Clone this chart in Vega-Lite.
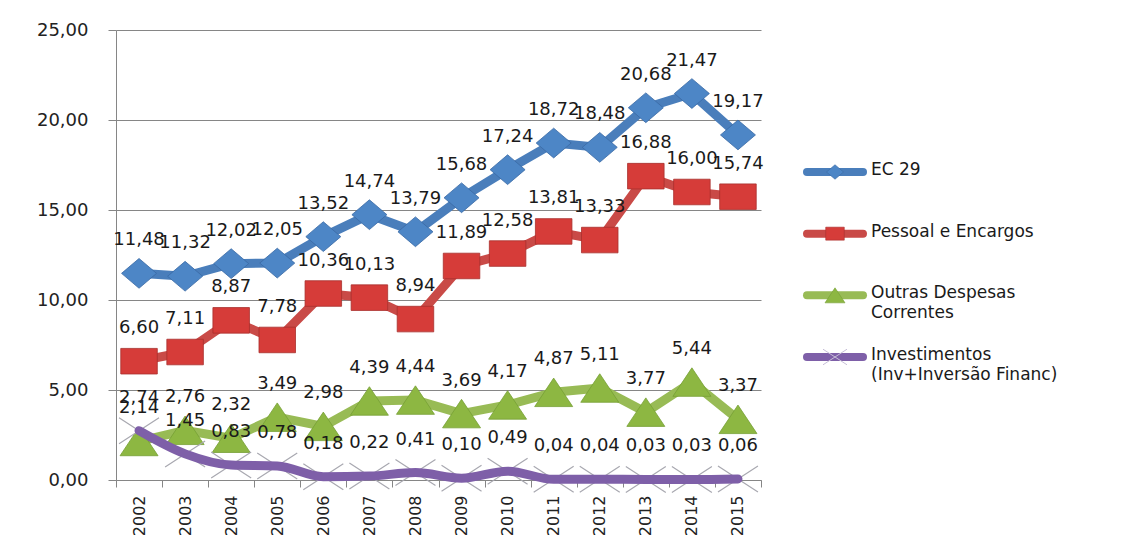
{
  "$schema": "https://vega.github.io/schema/vega-lite/v6.json",
  "padding": {"left": 5, "top": 21, "right": 5, "bottom": 5},
  "background": "white",
  "spacing": 39,
  "datasets": {
    "d": [
      {"year": "2002", "series": "EC 29", "value": 11.48},
      {"year": "2003", "series": "EC 29", "value": 11.32},
      {"year": "2004", "series": "EC 29", "value": 12.02},
      {"year": "2005", "series": "EC 29", "value": 12.05},
      {"year": "2006", "series": "EC 29", "value": 13.52},
      {"year": "2007", "series": "EC 29", "value": 14.74},
      {"year": "2008", "series": "EC 29", "value": 13.79},
      {"year": "2009", "series": "EC 29", "value": 15.68},
      {"year": "2010", "series": "EC 29", "value": 17.24},
      {"year": "2011", "series": "EC 29", "value": 18.72},
      {"year": "2012", "series": "EC 29", "value": 18.48},
      {"year": "2013", "series": "EC 29", "value": 20.68},
      {"year": "2014", "series": "EC 29", "value": 21.47},
      {"year": "2015", "series": "EC 29", "value": 19.17},
      {"year": "2002", "series": "Pessoal e Encargos", "value": 6.60},
      {"year": "2003", "series": "Pessoal e Encargos", "value": 7.11},
      {"year": "2004", "series": "Pessoal e Encargos", "value": 8.87},
      {"year": "2005", "series": "Pessoal e Encargos", "value": 7.78},
      {"year": "2006", "series": "Pessoal e Encargos", "value": 10.36},
      {"year": "2007", "series": "Pessoal e Encargos", "value": 10.13},
      {"year": "2008", "series": "Pessoal e Encargos", "value": 8.94},
      {"year": "2009", "series": "Pessoal e Encargos", "value": 11.89},
      {"year": "2010", "series": "Pessoal e Encargos", "value": 12.58},
      {"year": "2011", "series": "Pessoal e Encargos", "value": 13.81},
      {"year": "2012", "series": "Pessoal e Encargos", "value": 13.33},
      {"year": "2013", "series": "Pessoal e Encargos", "value": 16.88},
      {"year": "2014", "series": "Pessoal e Encargos", "value": 16.00},
      {"year": "2015", "series": "Pessoal e Encargos", "value": 15.74},
      {"year": "2002", "series": "Outras Despesas Correntes", "value": 2.14},
      {"year": "2003", "series": "Outras Despesas Correntes", "value": 2.76},
      {"year": "2004", "series": "Outras Despesas Correntes", "value": 2.32},
      {"year": "2005", "series": "Outras Despesas Correntes", "value": 3.49},
      {"year": "2006", "series": "Outras Despesas Correntes", "value": 2.98},
      {"year": "2007", "series": "Outras Despesas Correntes", "value": 4.39},
      {"year": "2008", "series": "Outras Despesas Correntes", "value": 4.44},
      {"year": "2009", "series": "Outras Despesas Correntes", "value": 3.69},
      {"year": "2010", "series": "Outras Despesas Correntes", "value": 4.17},
      {"year": "2011", "series": "Outras Despesas Correntes", "value": 4.87},
      {"year": "2012", "series": "Outras Despesas Correntes", "value": 5.11},
      {"year": "2013", "series": "Outras Despesas Correntes", "value": 3.77},
      {"year": "2014", "series": "Outras Despesas Correntes", "value": 5.44},
      {"year": "2015", "series": "Outras Despesas Correntes", "value": 3.37},
      {"year": "2002", "series": "Investimentos (Inv+Inversão Financ)", "value": 2.74},
      {"year": "2003", "series": "Investimentos (Inv+Inversão Financ)", "value": 1.45},
      {"year": "2004", "series": "Investimentos (Inv+Inversão Financ)", "value": 0.83},
      {"year": "2005", "series": "Investimentos (Inv+Inversão Financ)", "value": 0.78},
      {"year": "2006", "series": "Investimentos (Inv+Inversão Financ)", "value": 0.18},
      {"year": "2007", "series": "Investimentos (Inv+Inversão Financ)", "value": 0.22},
      {"year": "2008", "series": "Investimentos (Inv+Inversão Financ)", "value": 0.41},
      {"year": "2009", "series": "Investimentos (Inv+Inversão Financ)", "value": 0.10},
      {"year": "2010", "series": "Investimentos (Inv+Inversão Financ)", "value": 0.49},
      {"year": "2011", "series": "Investimentos (Inv+Inversão Financ)", "value": 0.04},
      {"year": "2012", "series": "Investimentos (Inv+Inversão Financ)", "value": 0.04},
      {"year": "2013", "series": "Investimentos (Inv+Inversão Financ)", "value": 0.03},
      {"year": "2014", "series": "Investimentos (Inv+Inversão Financ)", "value": 0.03},
      {"year": "2015", "series": "Investimentos (Inv+Inversão Financ)", "value": 0.06}
    ],
    "leg": [
      {"series": "EC 29", "label": "EC 29"},
      {"series": "Pessoal e Encargos", "label": "Pessoal e Encargos"},
      {"series": "Outras Despesas Correntes", "label": "Outras Despesas\nCorrentes"},
      {"series": "Investimentos (Inv+Inversão Financ)", "label": "Investimentos\n(Inv+Inversão Financ)"}
    ]
  },
  "hconcat": [
    {
      "width": 645,
      "height": 450,
      "data": {"name": "d"},
      "encoding": {
        "x": {
          "field": "year", "type": "ordinal",
          "scale": {"type": "band", "paddingInner": 0, "paddingOuter": 0},
          "axis": {
            "title": null, "labelAngle": -90, "tickBand": "extent", "grid": false,
            "domainColor": "#868686", "tickColor": "#868686", "tickSize": 7,
            "labelPadding": 8, "labelFont": "DejaVu Sans", "labelFontSize": 16, "labelColor": "#222222"
          }
        },
        "y": {
          "field": "value", "type": "quantitative",
          "scale": {"domain": [0, 25]},
          "axis": {
            "title": null, "values": [0, 5, 10, 15, 20, 25], "format": ".2f",
            "grid": true, "gridColor": "#868686", "gridWidth": 1,
            "domainColor": "#868686", "tickColor": "#868686", "tickSize": 8,
            "labelPadding": 20, "minExtent": 111,
            "labelFont": "DejaVu Sans", "labelFontSize": 18, "labelColor": "#222222"
          }
        }
      },
      "layer": [
        {
          "transform": [{"filter": "datum.series != 'Investimentos (Inv+Inversão Financ)'"}],
          "mark": {"type": "line", "strokeWidth": 9, "strokeJoin": "round"},
          "encoding": {
            "color": {
              "field": "series", "type": "nominal", "legend": null,
              "scale": {
                "domain": ["EC 29", "Pessoal e Encargos", "Outras Despesas Correntes", "Investimentos (Inv+Inversão Financ)"],
                "range": ["#4A7EBB", "#C94A47", "#98BB55", "#7E5FA8"]
              }
            }
          }
        },
        {
          "transform": [{"filter": "datum.series != 'Investimentos (Inv+Inversão Financ)'"}],
          "mark": {"type": "point", "filled": true, "opacity": 1, "strokeWidth": 0.8},
          "encoding": {
            "shape": {
              "field": "series", "type": "nominal", "legend": null,
              "scale": {
                "domain": ["EC 29", "Pessoal e Encargos", "Outras Despesas Correntes"],
                "range": ["M0,-0.85L1,0L0,0.85L-1,0Z", "M-1,-0.7L1,-0.7L1,0.7L-1,0.7Z", "M0,-0.75L1,0.75L-1,0.75Z"]
              }
            },
            "fill": {
              "field": "series", "type": "nominal", "legend": null,
              "scale": {
                "domain": ["EC 29", "Pessoal e Encargos", "Outras Despesas Correntes"],
                "range": ["#4D86C6", "#D63C39", "#8DB742"]
              }
            },
            "stroke": {
              "field": "series", "type": "nominal", "legend": null,
              "scale": {
                "domain": ["EC 29", "Pessoal e Encargos", "Outras Despesas Correntes"],
                "range": ["#3A6AA5", "#A8302D", "#76A035"]
              }
            },
            "size": {
              "field": "series", "type": "nominal", "legend": null,
              "scale": {
                "domain": ["EC 29", "Pessoal e Encargos", "Outras Despesas Correntes"],
                "range": [1225, 1444, 1369]
              }
            }
          }
        },
        {
          "transform": [{"filter": "datum.series == 'Investimentos (Inv+Inversão Financ)'"}],
          "mark": {"type": "point", "filled": false, "shape": "M-1,-0.65L1,0.65M-1,0.65L1,-0.65", "size": 1600, "stroke": "#A8A8B0", "strokeWidth": 1.2, "opacity": 1},
          "encoding": {}
        },
        {
          "transform": [{"filter": "datum.series == 'Investimentos (Inv+Inversão Financ)'"}],
          "mark": {"type": "line", "strokeWidth": 9, "interpolate": "monotone", "color": "#7E5FA8", "strokeCap": "round"},
          "encoding": {}
        },
        {
          "mark": {"type": "text", "dy": -33, "fontSize": 18, "font": "DejaVu Sans", "color": "#1a1a1a"},
          "encoding": {"text": {"field": "value", "type": "quantitative", "format": ".2f"}}
        }
      ]
    },
    {
      "width": 320,
      "height": 450,
      "data": {"name": "leg"},
      "encoding": {
        "y": {
          "field": "series", "type": "nominal", "axis": null,
          "scale": {
            "type": "point", "range": [142, 327], "padding": 0,
            "domain": ["EC 29", "Pessoal e Encargos", "Outras Despesas Correntes", "Investimentos (Inv+Inversão Financ)"]
          }
        }
      },
      "layer": [
        {
          "mark": {"type": "rule", "strokeWidth": 8, "strokeCap": "round"},
          "encoding": {
            "x": {"datum": 0, "type": "quantitative", "scale": {"domain": [0, 10]}, "axis": null},
            "x2": {"datum": 1.75},
            "color": {
              "field": "series", "type": "nominal", "legend": null,
              "scale": {
                "domain": ["EC 29", "Pessoal e Encargos", "Outras Despesas Correntes", "Investimentos (Inv+Inversão Financ)"],
                "range": ["#4A7EBB", "#C94A47", "#98BB55", "#7E5FA8"]
              }
            }
          }
        },
        {
          "transform": [{"filter": "datum.series != 'Investimentos (Inv+Inversão Financ)'"}],
          "mark": {"type": "point", "filled": true, "opacity": 1, "strokeWidth": 0.6},
          "encoding": {
            "x": {"datum": 0.875, "type": "quantitative"},
            "shape": {
              "field": "series", "type": "nominal", "legend": null,
              "scale": {
                "domain": ["EC 29", "Pessoal e Encargos", "Outras Despesas Correntes"],
                "range": ["M0,-0.85L1,0L0,0.85L-1,0Z", "M-1,-0.7L1,-0.7L1,0.7L-1,0.7Z", "M0,-0.75L1,0.75L-1,0.75Z"]
              }
            },
            "fill": {
              "field": "series", "type": "nominal", "legend": null,
              "scale": {
                "domain": ["EC 29", "Pessoal e Encargos", "Outras Despesas Correntes"],
                "range": ["#4D86C6", "#D63C39", "#8DB742"]
              }
            },
            "stroke": {
              "field": "series", "type": "nominal", "legend": null,
              "scale": {
                "domain": ["EC 29", "Pessoal e Encargos", "Outras Despesas Correntes"],
                "range": ["#3A6AA5", "#A8302D", "#76A035"]
              }
            },
            "size": {
              "field": "series", "type": "nominal", "legend": null,
              "scale": {
                "domain": ["EC 29", "Pessoal e Encargos", "Outras Despesas Correntes"],
                "range": [289, 400, 400]
              }
            }
          }
        },
        {
          "transform": [{"filter": "datum.series == 'Investimentos (Inv+Inversão Financ)'"}],
          "mark": {"type": "point", "filled": false, "shape": "M-1,-0.65L1,0.65M-1,0.65L1,-0.65", "size": 576, "stroke": "#C8C0D8", "strokeWidth": 1, "opacity": 1},
          "encoding": {"x": {"datum": 0.875, "type": "quantitative"}}
        },
        {
          "mark": {"type": "text", "align": "left", "baseline": "top", "dy": -10, "dx": 8, "lineBreak": "\n", "lineHeight": 20, "fontSize": 17, "font": "DejaVu Sans", "color": "#1a1a1a"},
          "encoding": {
            "x": {"datum": 1.75, "type": "quantitative"},
            "text": {"field": "label", "type": "nominal"}
          }
        }
      ]
    }
  ],
  "resolve": {
    "scale": {"x": "independent", "y": "independent", "color": "independent", "shape": "independent", "fill": "independent", "stroke": "independent", "size": "independent"}
  },
  "config": {
    "view": {"stroke": null},
    "font": "DejaVu Sans",
    "locale": {"number": {"decimal": ",", "thousands": ".", "grouping": [3], "currency": ["R$", ""]}}
  }
}
